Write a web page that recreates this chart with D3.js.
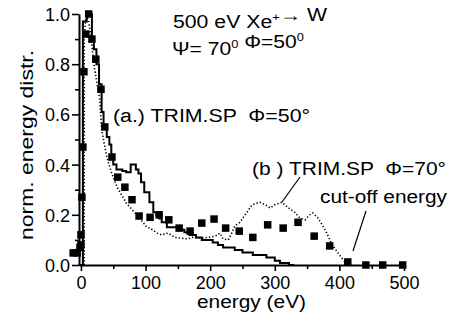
<!DOCTYPE html>
<html>
<head>
<meta charset="utf-8">
<script src="https://cdn.jsdelivr.net/npm/d3@7"></script>
<style>
  body { margin: 0; background: #fff; }
  text { font-family: "Liberation Sans", Arial, sans-serif; fill: #000; }
</style>
</head>
<body>
<svg id="chart" width="451" height="322"></svg>
<script>
// experiment (squares): [energy eV, norm. distribution]
const measured = [
  [-12, 0.048], [-6, 0.048], [-1.5, 0.07], [0, 0.08], [0, 0.12], [1.5, 0.27],
  [3, 0.47], [4.6, 0.77], [7.7, 0.92], [12, 1.0], [17, 0.90], [23, 0.82],
  [31, 0.70], [37, 0.55], [48, 0.43], [57, 0.35], [68, 0.31], [79, 0.26],
  [90, 0.195], [107, 0.19], [121, 0.20], [136, 0.18], [152, 0.147], [169, 0.135],
  [187, 0.167], [206, 0.183], [224, 0.147], [245, 0.135], [266, 0.11], [289, 0.16],
  [313, 0.147], [336, 0.17], [361, 0.115], [385, 0.076], [413, 0.012],
  [441, 0], [467, 0], [498, 0]
];

// (a.) TRIM.SP phi=50 deg, histogram steps [bin start, value]
const trim50 = [
  [-3, 0], [3, 0.97], [9, 1.0], [17, 0.90], [20, 0.86], [24, 0.80], [28, 0.72],
  [32, 0.61], [35, 0.55], [40, 0.51], [44, 0.48], [47, 0.44], [50, 0.40],
  [55, 0.38], [64, 0.375], [70, 0.37], [77, 0.40], [85, 0.38], [89, 0.365],
  [93, 0.33], [98, 0.29], [106, 0.25], [112, 0.21], [117, 0.20], [121, 0.185],
  [125, 0.17], [133, 0.15], [150, 0.14], [160, 0.13], [168, 0.12], [178, 0.11],
  [187, 0.10], [204, 0.09], [212, 0.08], [220, 0.07], [238, 0.06], [250, 0.05],
  [266, 0.04], [287, 0.03], [300, 0.017], [308, 0.008], [322, 0], [330, 0]
];

// (b) TRIM.SP phi=70 deg, dotted line [energy, value]
const trim70 = [
  [5, 0], [5, 0.9], [8, 1.0], [12, 0.97], [16, 0.9], [20, 0.8], [25, 0.72],
  [29, 0.66], [32, 0.54], [40, 0.43], [47, 0.37], [56, 0.31], [65, 0.27],
  [71, 0.243], [76, 0.23], [86, 0.2], [96, 0.17], [102, 0.15], [107, 0.147],
  [118, 0.127], [125, 0.12], [135, 0.127], [145, 0.11], [156, 0.107], [165, 0.104],
  [173, 0.11], [187, 0.107], [197, 0.11], [208, 0.115], [215, 0.127], [220, 0.104],
  [228, 0.1], [234, 0.13], [238, 0.155], [246, 0.17], [254, 0.2], [265, 0.24],
  [277, 0.25], [285, 0.24], [293, 0.227], [300, 0.24], [311, 0.25], [320, 0.23],
  [331, 0.21], [339, 0.187], [347, 0.18], [354, 0.2], [359, 0.207], [367, 0.187],
  [378, 0.14], [389, 0.08], [398, 0.048], [406, 0.02], [412, 0.008], [416, 0]
];

const xTicks = [0, 100, 200, 300, 400, 500];
const xMinor = [50, 150, 250, 350, 450];
const yTicks = [0.0, 0.2, 0.4, 0.6, 0.8, 1.0];
const yMinor = [0.1, 0.3, 0.5, 0.7, 0.9];

const svg = d3.select('#chart');
const M = { left: 79, top: 14, right: 47, bottom: 57 };
const W = 451 - M.left - M.right;
const H = 322 - M.top - M.bottom;

const x = d3.scaleLinear().domain([-3, 500]).range([0, W]);
const y = d3.scaleLinear().domain([0, 1]).range([H, 0]);

const g = svg.append('g').attr('transform', `translate(${M.left},${M.top})`);

// data
g.append('path')
  .datum(trim70)
  .attr('fill', 'none')
  .attr('stroke', '#000')
  .attr('stroke-width', 1.6)
  .attr('stroke-dasharray', '1.3,2.1')
  .attr('d', d3.line().x((d) => x(d[0])).y((d) => y(d[1])));

g.append('path')
  .datum(trim50)
  .attr('fill', 'none')
  .attr('stroke', '#000')
  .attr('stroke-width', 2)
  .attr('d', d3.line().curve(d3.curveStepAfter).x((d) => x(d[0])).y((d) => y(d[1])));

const sq = 7.5;
g.append('g')
  .selectAll('rect')
  .data(measured)
  .join('rect')
  .attr('x', (d) => x(d[0]) - sq / 2)
  .attr('y', (d) => y(d[1]) - sq / 2)
  .attr('width', sq)
  .attr('height', sq)
  .attr('fill', '#000');

// axes
const fmt = d3.format('.1f');
const xAxis = g.append('g').attr('transform', `translate(0,${H})`)
  .call(d3.axisBottom(x).tickValues(xTicks).tickSize(6).tickSizeOuter(0).tickPadding(4));
g.append('g').attr('transform', `translate(0,${H})`)
  .call(d3.axisBottom(x).tickValues(xMinor).tickSize(4).tickSizeOuter(0).tickFormat(''))
  .select('.domain').remove();
const yAxis = g.append('g')
  .call(d3.axisLeft(y).tickValues(yTicks).tickFormat(fmt).tickSize(7).tickSizeOuter(0).tickPadding(2));
g.append('g')
  .call(d3.axisLeft(y).tickValues(yMinor).tickSize(4).tickSizeOuter(0).tickFormat(''))
  .select('.domain').remove();

g.selectAll('.domain').attr('stroke-width', 2);
g.selectAll('.tick line').attr('stroke-width', 1.6);
xAxis.selectAll('text').style('font-size', '18px').attr('dy', '0.75em');
yAxis.selectAll('text').style('font-size', '18px').attr('dy', '0.36em');

// text helper: stretch horizontally to the measured width; [s] = superscript
function addLabel(x0, y0, width, parts) {
  const t = svg.append('text')
    .attr('x', x0).attr('y', y0)
    .attr('xml:space', 'preserve')
    .attr('textLength', width)
    .attr('lengthAdjust', 'spacingAndGlyphs')
    .style('font-size', '18px');
  for (const p of parts) {
    if (Array.isArray(p)) {
      t.append('tspan').attr('dy', -7).style('font-size', '11px').text(p[0]);
      t.append('tspan').attr('dy', 7).text('');
    } else {
      t.append('tspan').text(p);
    }
  }
  return t;
}

// axis titles
addLabel(197, 308, 109, ['energy (eV)']);
svg.append('text')
  .attr('transform', 'translate(33,145) rotate(-90)')
  .attr('text-anchor', 'middle')
  .attr('textLength', 190)
  .attr('lengthAdjust', 'spacingAndGlyphs')
  .style('font-size', '18px')
  .text('norm. energy distr.');

// annotations
addLabel(173, 28, 154, ['500 eV Xe', ['+'], '\u2192 W']);
addLabel(172, 55, 132, ['\u03A8= 70', ['0'], ' \u03A6=50', ['0']]);
addLabel(113, 122, 197, ['(a.) TRIM.SP  \u03A6=50\u00B0']);
addLabel(252, 175, 194, ['(b ) TRIM.SP  \u03A6=70\u00B0']);
addLabel(320, 203, 127, ['cut-off energy']);

svg.append('line').attr('x1', 300).attr('y1', 177).attr('x2', 282).attr('y2', 202)
  .attr('stroke', '#000').attr('stroke-width', 1.2);
svg.append('line').attr('x1', 366).attr('y1', 211).attr('x2', 353).attr('y2', 251)
  .attr('stroke', '#000').attr('stroke-width', 1.2);
</script>
</body>
</html>
